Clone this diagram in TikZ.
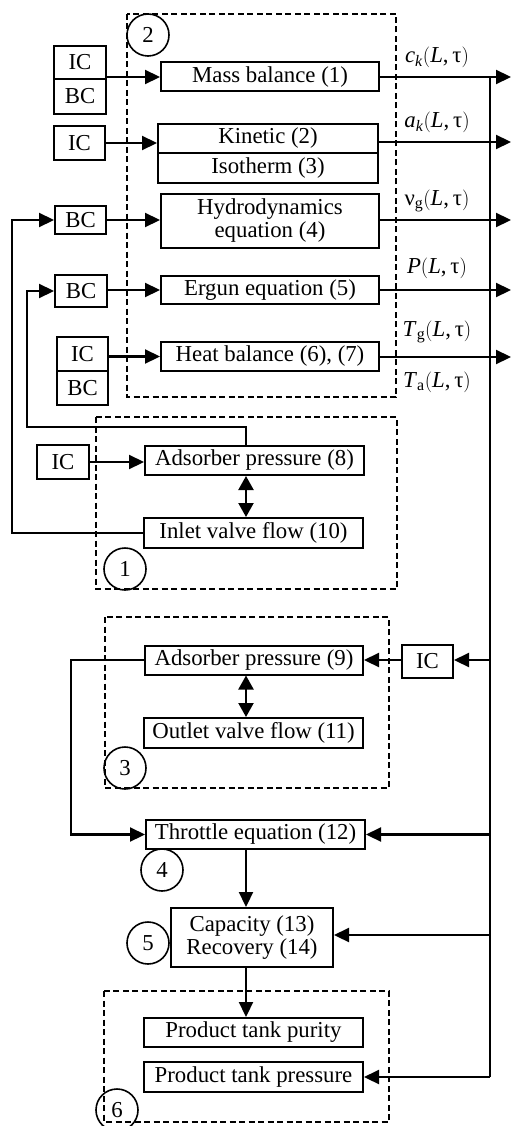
\documentclass[tikz,border=0pt]{standalone}
\usepackage{fontspec}
\setmainfont{Liberation Serif}
\usetikzlibrary{arrows.meta}
\begin{document}
\begin{tikzpicture}[x=1pt,y=-1pt,
  every node/.style={font=\fontsize{22.8}{25}\selectfont},
  box/.style={draw, line width=2pt, inner sep=0pt, align=center},
  arr/.style={line width=2.2pt, -{Triangle[length=15pt,width=14pt]}},
  darr/.style={line width=2.2pt, {Triangle[length=14pt,width=15pt]}-{Triangle[length=14pt,width=15pt]}},
  conn/.style={line width=2.2pt},
  dbox/.style={draw, line width=1.7pt, dash pattern=on 6pt off 3.5pt},
  num/.style={draw, circle, line width=1.6pt, minimum size=42pt, inner sep=0pt},
  lab/.style={inner sep=0pt}]
\useasboundingbox (0,0) rectangle (511,1126);
\coordinate (vx) at (246,0);
% dashed groups
\draw[dbox] (127,14) rectangle (396,397);
\draw[dbox] (96,417) rectangle (397,589);
\draw[dbox] (105,617) rectangle (389,788);
\draw[dbox] (104,991) rectangle (389,1122);
% circles
\node[num] (n2) at (148,35) {2};
\node[num] (n1) at (125,569) {1};
\node[num] (n3) at (125,768) {3};
\node[num] (n4) at (162,870) {4};
\node[num] (n5) at (148,943) {5};
\node[num] (n6) at (117,1110) {6};
% group 2
\node[box, minimum width=52pt, minimum height=33pt] (icA) at (80,62.5) {IC};
\node[box, minimum width=52pt, minimum height=35pt] (bcA) at (80,96.5) {BC};
\node[box, minimum width=218pt, minimum height=29pt] (mb) at (270,77) {Mass balance (1)};
\node[box, minimum width=51pt, minimum height=34pt] (icB) at (79.5,143) {IC};
\node[box, minimum width=220pt, minimum height=29pt] (kin) at (268,138.5) {Kinetic (2)};
\node[box, minimum width=220pt, minimum height=30pt] (iso) at (268,168) {Isotherm (3)};
\node[box, minimum width=51pt, minimum height=28pt] (bcC) at (80.5,220) {BC};
\node[box, minimum width=218pt, minimum height=54pt] (hyd) at (270,221) {Hydrodynamics\\[-2pt]equation (4)};
\node[box, minimum width=52pt, minimum height=32pt] (bcD) at (81,291) {BC};
\node[box, minimum width=218pt, minimum height=28pt] (erg) at (270,290) {Ergun equation (5)};
\node[box, minimum width=51pt, minimum height=34pt] (icE) at (82.5,354) {IC};
\node[box, minimum width=51pt, minimum height=34pt] (bcE) at (82.5,388) {BC};
\node[box, minimum width=218pt, minimum height=29pt] (heat) at (270,356.5) {Heat balance (6), (7)};
% output labels
\node[lab] (lc) at (437,57) {\textit{c}\textsubscript{\textit{k}}\big(\textit{L},\thinspace τ\big)};
\node[lab] (la) at (437,122) {\textit{a}\textsubscript{\textit{k}}\big(\textit{L},\thinspace τ\big)};
\node[lab] (lv) at (437,201) {ν\textsubscript{g}\big(\textit{L},\thinspace τ\big)};
\node[lab] (lp) at (437,268) {\textit{P}\big(\textit{L},\thinspace τ\big)};
\node[lab] (lt) at (437,332) {\textit{T}\textsubscript{g}\big(\textit{L},\thinspace τ\big)};
\node[lab] (lta) at (437,382) {\textit{T}\textsubscript{a}\big(\textit{L},\thinspace τ\big)};
\coordinate (oc) at (511,77);
\coordinate (oa) at (511,142);
\coordinate (ov) at (511,220);
\coordinate (op) at (511,290);
\coordinate (ot) at (511,357);
% group 1
\node[box, minimum width=52pt, minimum height=34pt] (icF) at (63,462) {IC};
\node[box, minimum width=219pt, minimum height=29pt] (ads8) at (254.5,460.5) {Adsorber pressure (8)};
\node[box, minimum width=219pt, minimum height=30pt] (inl) at (253.5,533) {Inlet valve flow (10)};
% group 3
\node[box, minimum width=218pt, minimum height=29pt] (ads9) at (254,660) {Adsorber pressure (9)};
\node[box, minimum width=51pt, minimum height=33pt] (icG) at (427.5,661) {IC};
\node[box, minimum width=219pt, minimum height=30pt] (outl) at (253.5,733) {Outlet valve flow (11)};
% lower chain
\node[box, minimum width=219pt, minimum height=29pt] (thr) at (255.5,834.5) {Throttle equation (12)};
\node[box, minimum width=162pt, minimum height=59pt] (cap) at (252,937.5) {Capacity (13)\\[-2pt]Recovery (14)};
\node[box, minimum width=219pt, minimum height=29pt] (ptp) at (253.5,1032.5) {Product tank purity};
\node[box, minimum width=219pt, minimum height=30pt] (ptr) at (253.5,1077) {Product tank pressure};
% right bus
\coordinate (bt) at (490,77);
\coordinate (bb) at (490,1077);
\draw[conn] (bt) -- (bb);
% inputs to group 2
\draw[arr] (mb.west -| icA.east) -- (mb.west);
\draw[arr] (icB.east) -- (icB.east -| kin.west);
\draw[arr] (bcC.east) -- (hyd.west |- bcC.east);
\draw[arr] (erg.west -| bcD.east) -- (erg.west);
\draw[arr] (heat.west -| icE.east) -- (heat.west);
% outputs
\draw[arr] (mb.east) -- (oc);
\draw[arr] (oa -| kin.east) -- (oa);
\draw[arr] (ov -| hyd.east) -- (ov);
\draw[arr] (erg.east) -- (op);
\draw[arr] (ot -| heat.east) -- (ot);
% group 1 links
\draw[arr] (icF.east) -- (icF.east -| ads8.west);
\draw[arr] (ads8.north -| vx) -- (246,427) -- (27,427) |- (bcD.west);
\draw[arr] (inl.west) -- (12,533) |- (bcC.west);
\draw[darr] (ads8.south -| vx) -- (inl.north -| vx);
% group 3 links
\coordinate (jg) at (490,660);
\draw[arr] (jg) -- (jg -| icG.east);
\draw[arr] (icG.west |- ads9.east) -- (ads9.east);
\draw[darr] (ads9.south -| vx) -- (outl.north -| vx);
\draw[arr] (ads9.west) -- (71,660) |- (thr.west);
% lower chain links
\coordinate (jt) at (490,834.5);
\coordinate (jc) at (490,935);
\draw[arr] (jt) -- (thr.east);
\draw[arr] (thr.south -| vx) -- (cap.north -| vx);
\draw[arr] (jc) -- (jc -| cap.east);
\draw[arr] (cap.south -| vx) -- (ptp.north -| vx);
\draw[arr] (bb) -- (ptr.east);
\end{tikzpicture}
\end{document}
